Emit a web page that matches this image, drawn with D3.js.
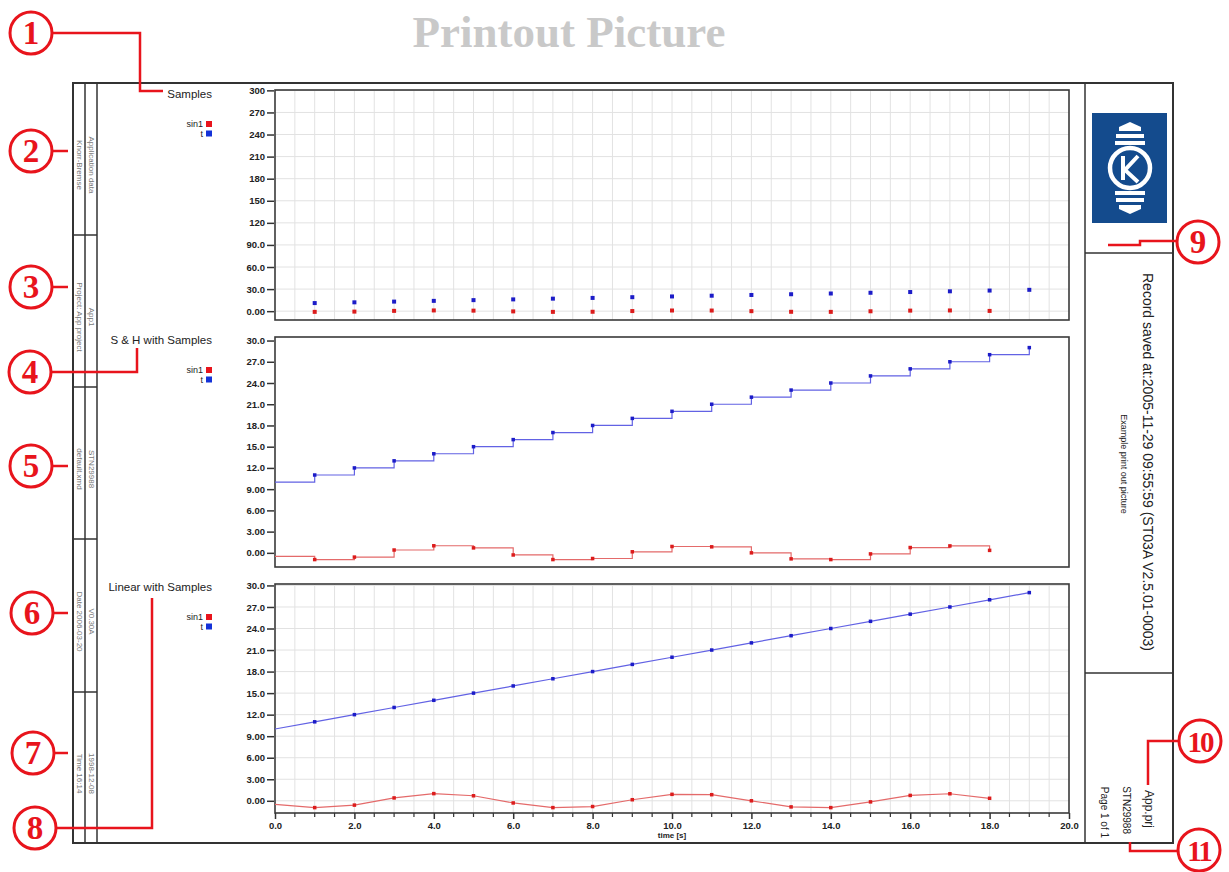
<!DOCTYPE html>
<html>
<head>
<meta charset="utf-8">
<script src="https://cdn.jsdelivr.net/npm/d3@7"></script>
<style>
  body { margin: 0; background: #fff; }
  svg { display: block; }
</style>
</head>
<body>
<script>
// data
const timeSteps = [0, 1, 2, 3, 4, 5, 6, 7, 8, 9, 10, 11, 12, 13, 14, 15, 16, 17, 18, 19];
const tSeries = [10, 11, 12, 13, 14, 15, 16, 17, 18, 19, 20, 21, 22, 23, 24, 25, 26, 27, 28, 29];
const sin1Series = [-0.5, -0.95, -0.6, 0.4, 1.0, 0.7, -0.3, -0.95, -0.8, 0.15, 0.9, 0.85, 0.0, -0.85, -0.95, -0.15, 0.75, 0.98, 0.35];

const panelTitles = ["Samples", "S & H with Samples", "Linear with Samples"];
const legendNames = ["sin1", "t"];

const sampleTicks = [0, 30, 60, 90, 120, 150, 180, 210, 240, 270, 300];
const sampleTickLabels = ["0.00", "30.0", "60.0", "90.0", "120", "150", "180", "210", "240", "270", "300"];
const valueTicks = [0, 3, 6, 9, 12, 15, 18, 21, 24, 27, 30];
const valueTickLabels = ["0.00", "3.00", "6.00", "9.00", "12.0", "15.0", "18.0", "21.0", "24.0", "27.0", "30.0"];
const timeTicks = [0, 2, 4, 6, 8, 10, 12, 14, 16, 18, 20];
const timeTickLabels = ["0.0", "2.0", "4.0", "6.0", "8.0", "10.0", "12.0", "14.0", "16.0", "18.0", "20.0"];

const infoCells = [
  ["Knorr-Bremse", "Application data"],
  ["Project: App project", "App1"],
  ["default.xmd", "STN29988"],
  ["Date 2006-03-20", "V0.30A"],
  ["Time 16:14", "1998-12-08"]
];

const W = 1229, H = 872;
const font = "'Liberation Sans', Arial, sans-serif";
const serif = "'Liberation Serif', 'Times New Roman', serif";
const blueLine = "#6262e4", redLine = "#e46a6a";
const blueMark = "#1c1cc8", redMark = "#dc1c1c";

const svg = d3.select("body").append("svg")
  .attr("width", W).attr("height", H)
  .attr("font-family", font);

// heading
svg.append("text")
  .attr("x", 569).attr("y", 47)
  .attr("text-anchor", "middle")
  .attr("font-family", serif).attr("font-weight", "bold")
  .attr("font-size", 45).attr("fill", "#c9c9c9")
  .text("Printout Picture");

// page frame
const frame = svg.append("g").attr("stroke", "#333").attr("fill", "none");
frame.append("rect").attr("x", 73).attr("y", 83).attr("width", 1100).attr("height", 760).attr("stroke-width", 2);
frame.append("line").attr("x1", 85).attr("x2", 85).attr("y1", 83).attr("y2", 843).attr("stroke-width", 1.5);
frame.append("line").attr("x1", 97).attr("x2", 97).attr("y1", 83).attr("y2", 843).attr("stroke-width", 1.5);
frame.append("line").attr("x1", 1085).attr("x2", 1085).attr("y1", 83).attr("y2", 843).attr("stroke-width", 1.5);
[253, 673].forEach(y => frame.append("line").attr("x1", 1085).attr("x2", 1173).attr("y1", y).attr("y2", y).attr("stroke-width", 1.5));

// left info strip
const cellEdges = [83, 235, 387, 539, 692, 843];
infoCells.forEach((pair, i) => {
  if (i > 0) frame.append("line").attr("x1", 73).attr("x2", 97).attr("y1", cellEdges[i]).attr("y2", cellEdges[i]).attr("stroke-width", 1.5);
  const cy = (cellEdges[i] + cellEdges[i + 1]) / 2 + 6;
  [79, 91].forEach((cx, j) => {
    svg.append("text")
      .attr("transform", `translate(${cx},${cy}) rotate(90)`)
      .attr("text-anchor", "middle").attr("dominant-baseline", "central")
      .attr("font-size", 8).attr("fill", "#777")
      .text(pair[j]);
  });
});

// right info panel
const logo = svg.append("g");
logo.append("rect").attr("x", 1092).attr("y", 113).attr("width", 75).attr("height", 110).attr("fill", "#144b8d");
const lx = 1130;
[[126, 131, 11], [134, 138, 14], [141, 145, 15]].forEach(([y0, y1, hw], k) => {
  logo.append("path").attr("fill", "#fff")
    .attr("d", k === 0
      ? `M${lx},${y0 - 4}L${lx + hw},${y0 + 1}L${lx + hw},${y1}L${lx - hw},${y1}L${lx - hw},${y0 + 1}Z`
      : `M${lx - hw},${y0}L${lx + hw},${y0}L${lx + hw},${y1}L${lx - hw},${y1}Z`);
  const b0 = 336 - y1, b1 = 336 - y0;
  logo.append("path").attr("fill", "#fff")
    .attr("d", k === 0
      ? `M${lx - hw},${b0}L${lx + hw},${b0}L${lx + hw},${b1 - 1}L${lx},${b1 + 4}L${lx - hw},${b1 - 1}Z`
      : `M${lx - hw},${b0}L${lx + hw},${b0}L${lx + hw},${b1}L${lx - hw},${b1}Z`);
});
logo.append("circle").attr("cx", lx).attr("cy", 168).attr("r", 20).attr("fill", "#144b8d").attr("stroke", "#fff").attr("stroke-width", 4.5);
logo.append("path").attr("fill", "none").attr("stroke", "#fff").attr("stroke-width", 4)
  .attr("d", `M${lx - 7},156V180M${lx + 8},156L${lx - 5},170L${lx + 8},182`);

const rightText = (x, y, size, anchor, str) => svg.append("text")
  .attr("transform", `translate(${x},${y}) rotate(90)`)
  .attr("text-anchor", anchor).attr("dominant-baseline", "central")
  .attr("font-size", size).attr("fill", "#222").text(str);
rightText(1148, 462, 14, "middle", "Record saved at:2005-11-29 09:55:59 (ST03A V2.5.01-0003)");
rightText(1124, 464, 9, "middle", "Example print out picture");
rightText(1149, 828, 12, "end", "App.prj");
rightText(1126, 834, 10, "end", "STN29988");
rightText(1104, 838, 10, "end", "Page 1 of  1");

// chart panels
const x = d3.scaleLinear().domain([0, 20]).range([275, 1069]);
const panels = [
  { title: panelTitles[0], top: 90, bottom: 320, domain: [-12, 300.5], ticks: sampleTicks, labels: sampleTickLabels, mode: "points", grid: true, titleY: 94 },
  { title: panelTitles[1], top: 337, bottom: 567, domain: [-2, 30.5], ticks: valueTicks, labels: valueTickLabels, mode: "step", grid: false, titleY: 340 },
  { title: panelTitles[2], top: 584, bottom: 813, domain: [-1.7, 30.2], ticks: valueTicks, labels: valueTickLabels, mode: "linear", grid: true, titleY: 587 }
];

const series = [
  { name: legendNames[0], values: sin1Series, line: redLine, mark: redMark, legend: "#e8141c" },
  { name: legendNames[1], values: tSeries, line: blueLine, mark: blueMark, legend: "#1432d8" }
];

panels.forEach((p, pi) => {
  const y = d3.scaleLinear().domain(p.domain).range([p.bottom, p.top]);
  const g = svg.append("g");

  g.append("text").attr("x", 212).attr("y", p.titleY).attr("text-anchor", "end")
    .attr("dominant-baseline", "central").attr("font-size", 11.5).attr("fill", "#222").text(p.title);
  series.forEach((s, si) => {
    const ly = p.titleY + 30 + si * 9.5;
    g.append("text").attr("x", 203).attr("y", ly).attr("text-anchor", "end")
      .attr("dominant-baseline", "central").attr("font-size", 9).attr("fill", "#222").text(s.name);
    g.append("rect").attr("x", 206).attr("y", ly - 3).attr("width", 6).attr("height", 6).attr("fill", s.legend);
  });

  if (p.grid) {
    const gridX = d3.range(1, 40).map(d => d / 2);
    g.append("g").selectAll("line").data(gridX).join("line")
      .attr("x1", d => x(d)).attr("x2", d => x(d)).attr("y1", p.top).attr("y2", p.bottom)
      .attr("stroke", "#e2e2e2").attr("stroke-width", 1);
    g.append("g").selectAll("line").data(p.ticks).join("line")
      .attr("x1", x.range()[0]).attr("x2", x.range()[1]).attr("y1", d => y(d)).attr("y2", d => y(d))
      .attr("stroke", "#e2e2e2").attr("stroke-width", 1);
  }

  g.append("rect").attr("x", 275).attr("y", p.top).attr("width", 1069 - 275).attr("height", p.bottom - p.top)
    .attr("fill", "none").attr("stroke", "#3a3a3a").attr("stroke-width", 1.6);

  const yAxis = g.append("g").attr("transform", "translate(274,0)")
    .call(d3.axisLeft(y).tickValues(p.ticks).tickSize(7).tickPadding(2).tickFormat((d, i) => p.labels[i]));
  yAxis.select(".domain").remove();
  yAxis.selectAll(".tick line").attr("stroke", "#333").attr("stroke-width", 1.5);
  yAxis.selectAll(".tick text").attr("font-family", font).attr("font-size", 9.5).attr("fill", "#222").attr("font-weight", "bold");

  if (pi === 2) {
    const minor = d3.range(1, 40).map(d => d / 2).filter(d => d % 2 !== 0);
    g.append("g").selectAll("line").data(minor).join("line")
      .attr("x1", d => x(d)).attr("x2", d => x(d)).attr("y1", p.bottom).attr("y2", p.bottom + 4)
      .attr("stroke", "#333").attr("stroke-width", 1.2);
    const xAxis = g.append("g").attr("transform", `translate(0,${p.bottom})`)
      .call(d3.axisBottom(x).tickValues(timeTicks).tickSize(6).tickPadding(3).tickFormat((d, i) => timeTickLabels[i]));
    xAxis.select(".domain").remove();
    xAxis.selectAll(".tick line").attr("stroke", "#333").attr("stroke-width", 1.5);
    xAxis.selectAll(".tick text").attr("font-family", font).attr("font-size", 9.5).attr("fill", "#222").attr("font-weight", "bold");
    g.append("text").attr("x", 672).attr("y", 838).attr("text-anchor", "middle")
      .attr("font-size", 8).attr("font-weight", "bold").attr("fill", "#222").text("time [s]");
  }

  series.forEach(s => {
    const pts = s.values.map((v, i) => [timeSteps[i], v]);
    if (p.mode !== "points") {
      const line = d3.line().x(d => x(d[0])).y(d => y(d[1]))
        .curve(p.mode === "step" ? d3.curveStepAfter : d3.curveLinear);
      g.append("path").datum(pts).attr("d", line)
        .attr("fill", "none").attr("stroke", s.line).attr("stroke-width", 1.2);
    }
    const sz = p.mode === "points" ? 4 : 3.5;
    g.append("g").selectAll("rect").data(pts.slice(1)).join("rect")
      .attr("x", d => x(d[0]) - sz / 2).attr("y", d => y(d[1]) - sz / 2)
      .attr("width", sz).attr("height", sz).attr("fill", s.mark);
  });
});

// red callouts
const callouts = [
  { n: "1", cx: 31, cy: 33, path: [[52, 33], [140, 33], [140, 91], [163, 91]] },
  { n: "2", cx: 31, cy: 151, path: [[52, 151], [68, 151]] },
  { n: "3", cx: 31, cy: 287, path: [[52, 287], [68, 287]] },
  { n: "4", cx: 30, cy: 372, path: [[51, 372], [137, 372], [137, 348]] },
  { n: "5", cx: 31, cy: 466, path: [[52, 466], [68, 466]] },
  { n: "6", cx: 32, cy: 613, path: [[53, 613], [68, 613]] },
  { n: "7", cx: 33, cy: 753, path: [[54, 753], [68, 753]] },
  { n: "8", cx: 35, cy: 828, path: [[56, 828], [152, 828], [152, 598]] },
  { n: "9", cx: 1198, cy: 242, path: [[1177, 241], [1140, 241], [1140, 245], [1108, 245]] },
  { n: "10", cx: 1200, cy: 741, path: [[1178, 741], [1148, 741], [1148, 785]] },
  { n: "11", cx: 1199, cy: 850, path: [[1177, 851], [1130, 851], [1130, 842]] }
];
const red = "#e8141c";
callouts.forEach(c => {
  svg.append("path").attr("d", d3.line()(c.path)).attr("fill", "none").attr("stroke", red).attr("stroke-width", 2.5);
  svg.append("circle").attr("cx", c.cx).attr("cy", c.cy).attr("r", 21)
    .attr("fill", "#fff").attr("stroke", red).attr("stroke-width", 3);
  svg.append("text").attr("x", c.cx).attr("y", c.cy + 11).attr("text-anchor", "middle")
    .attr("font-family", serif).attr("font-weight", "bold").attr("fill", red)
    .attr("font-size", c.n.length > 1 ? 29 : 33)
    .attr("letter-spacing", c.n.length > 1 ? -2 : 0)
    .text(c.n);
});
</script>
</body>
</html>
